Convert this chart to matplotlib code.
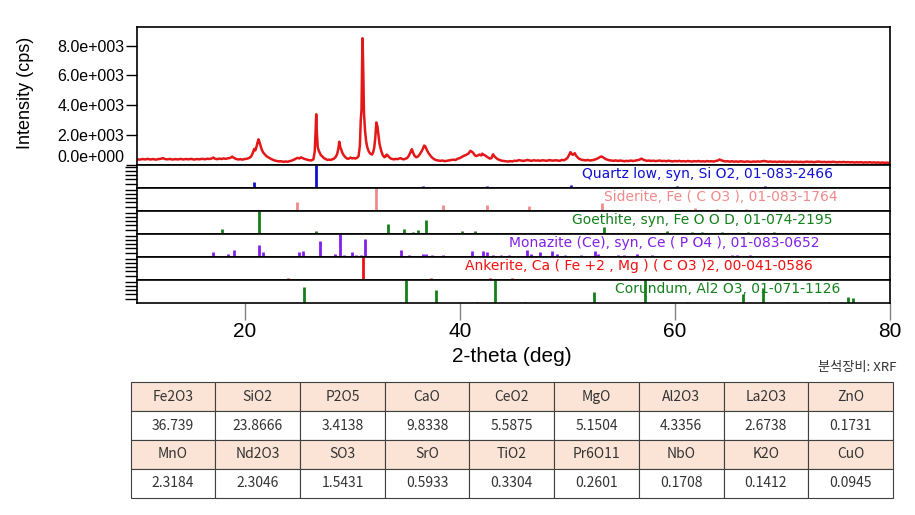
import matplotlib
matplotlib.use("Agg")
import matplotlib.pyplot as plt

scan_10_20 = [
    (10.0, 390), (10.25, 360), (10.5, 400), (10.75, 375), (11.0, 410), (11.25, 370),
    (11.5, 395), (11.75, 360), (12.0, 400), (12.25, 420), (12.4, 460), (12.6, 400),
    (12.8, 380), (13.05, 405), (13.3, 365), (13.55, 395), (13.8, 375), (14.05, 410),
    (14.3, 370), (14.55, 400), (14.8, 380), (15.05, 410), (15.3, 365), (15.55, 400),
    (15.8, 380), (16.05, 415), (16.3, 385), (16.55, 420), (16.75, 400), (16.95, 440),
    (17.1, 500), (17.25, 420), (17.45, 390), (17.65, 430), (17.85, 400), (18.05, 440),
    (18.25, 410), (18.45, 450), (18.65, 470), (18.85, 560), (19.0, 480), (19.2, 410),
    (19.4, 370), (19.6, 390), (19.8, 360), (20.0, 400), (20.2, 420), (20.4, 460),
]
scan_20_38 = [
    (20.6, 560), (20.75, 780), (20.9, 1080), (21.0, 980), (21.1, 1200), (21.2, 1500),
    (21.3, 1720), (21.4, 1500), (21.5, 1250), (21.6, 1020), (21.75, 820), (21.9, 700),
    (22.05, 580), (22.2, 520), (22.4, 430), (22.6, 360), (22.8, 300), (23.0, 270),
    (23.2, 240), (23.4, 250), (23.6, 215), (23.8, 235), (24.0, 220), (24.2, 260),
    (24.4, 300), (24.6, 360), (24.8, 440), (24.95, 480), (25.1, 440), (25.25, 510),
    (25.4, 460), (25.55, 410), (25.7, 380), (25.85, 350), (26.0, 320), (26.2, 310),
    (26.4, 380), (26.52, 900), (26.6, 2200), (26.66, 3400), (26.72, 2200), (26.8, 1200),
    (26.9, 950), (27.0, 800), (27.1, 650), (27.25, 560), (27.4, 450), (27.55, 400),
    (27.7, 340), (27.85, 360), (28.0, 340), (28.15, 380), (28.3, 420), (28.45, 520),
    (28.6, 720), (28.72, 1100), (28.8, 1560), (28.9, 1200), (29.0, 1000), (29.1, 800),
    (29.25, 620), (29.4, 500), (29.55, 420), (29.7, 430), (29.85, 500), (30.0, 440),
    (30.15, 470), (30.3, 430), (30.45, 480), (30.6, 600), (30.72, 1300), (30.8, 3000),
    (30.87, 3700), (30.93, 7000), (30.97, 8500), (31.03, 6500), (31.1, 3500), (31.2, 2300),
    (31.3, 1600), (31.4, 1200), (31.55, 900), (31.7, 750), (31.85, 700), (31.95, 850),
    (32.05, 1150), (32.15, 1800), (32.25, 2850), (32.35, 2600), (32.45, 2000), (32.55, 1400),
    (32.7, 950), (32.85, 650), (33.0, 520), (33.1, 560), (33.2, 700), (33.3, 650),
    (33.45, 520), (33.6, 430), (33.75, 400), (33.9, 380), (34.05, 410), (34.2, 390),
    (34.35, 430), (34.5, 460), (34.65, 400), (34.8, 380), (34.95, 420), (35.1, 460),
    (35.25, 600), (35.4, 820), (35.55, 1060), (35.65, 850), (35.8, 620), (35.95, 520),
    (36.1, 560), (36.25, 680), (36.4, 850), (36.55, 1050), (36.7, 1300), (36.8, 1250),
    (36.95, 1000), (37.1, 800), (37.25, 650), (37.4, 520), (37.55, 430), (37.7, 360),
    (37.85, 320),
]
scan_38_50 = [
    (38.0, 300), (38.2, 280), (38.4, 300), (38.6, 255), (38.8, 280), (39.0, 300),
    (39.2, 330), (39.4, 360), (39.6, 330), (39.8, 420), (40.0, 460), (40.2, 540),
    (40.4, 620), (40.6, 680), (40.8, 760), (41.0, 950), (41.1, 900), (41.25, 820),
    (41.4, 650), (41.55, 600), (41.7, 650), (41.85, 700), (42.0, 640), (42.1, 760),
    (42.2, 700), (42.35, 650), (42.5, 560), (42.65, 500), (42.8, 430), (42.95, 460),
    (43.1, 720), (43.2, 600), (43.35, 500), (43.5, 400), (43.7, 340), (43.9, 290),
    (44.1, 270), (44.3, 250), (44.5, 230), (44.7, 260), (44.9, 240), (45.1, 290),
    (45.3, 270), (45.5, 330), (45.7, 300), (45.9, 270), (46.1, 300), (46.3, 340),
    (46.5, 300), (46.7, 280), (46.9, 320), (47.1, 290), (47.3, 310), (47.5, 280),
    (47.7, 320), (47.9, 300), (48.1, 280), (48.3, 330), (48.5, 310), (48.7, 290),
    (48.9, 320), (49.1, 300), (49.3, 280), (49.5, 340), (49.7, 320), (49.85, 380),
    (50.0, 460),
]
scan_50_80 = [
    (50.1, 580), (50.2, 720), (50.3, 860), (50.4, 760), (50.5, 680), (50.6, 740),
    (50.7, 790), (50.8, 640), (50.95, 520), (51.1, 420), (51.3, 360), (51.5, 330),
    (51.7, 310), (51.9, 340), (52.1, 300), (52.3, 320), (52.5, 350), (52.7, 400),
    (52.9, 470), (53.05, 540), (53.2, 570), (53.35, 500), (53.5, 430), (53.7, 360),
    (53.9, 320), (54.1, 300), (54.3, 280), (54.5, 310), (54.7, 270), (54.9, 300),
    (55.1, 280), (55.3, 250), (55.5, 280), (55.7, 260), (55.9, 300), (56.1, 270),
    (56.3, 290), (56.5, 320), (56.7, 350), (56.9, 430), (57.05, 360), (57.2, 320),
    (57.4, 280), (57.6, 300), (57.8, 270), (58.0, 290), (58.2, 260), (58.4, 280),
    (58.6, 300), (58.8, 260), (59.0, 280), (59.2, 250), (59.4, 290), (59.6, 260),
    (59.8, 240), (60.0, 270), (60.2, 250), (60.4, 280), (60.6, 240), (60.8, 260),
    (61.0, 235), (61.2, 270), (61.4, 250), (61.6, 230), (61.8, 260), (62.0, 240),
    (62.2, 270), (62.4, 235), (62.6, 250), (62.8, 230), (63.0, 265), (63.2, 240),
    (63.4, 255), (63.6, 230), (63.8, 270), (64.0, 300), (64.15, 370), (64.3, 320),
    (64.5, 270), (64.7, 240), (64.9, 255), (65.1, 225), (65.3, 250), (65.5, 220),
    (65.7, 240), (65.9, 215), (66.1, 250), (66.3, 230), (66.5, 210), (66.7, 240),
    (66.9, 220), (67.1, 205), (67.3, 235), (67.5, 215), (67.7, 240), (67.9, 220),
    (68.1, 250), (68.3, 270), (68.5, 240), (68.7, 215), (68.9, 235), (69.1, 210),
    (69.3, 225), (69.5, 200), (69.7, 230), (69.9, 210), (70.1, 225), (70.3, 200),
    (70.5, 215), (70.7, 195), (70.9, 230), (71.1, 205), (71.3, 220), (71.5, 195),
    (71.7, 215), (71.9, 190), (72.1, 210), (72.3, 225), (72.5, 200), (72.7, 215),
    (72.9, 190), (73.1, 205), (73.3, 230), (73.5, 215), (73.7, 195), (73.9, 210),
    (74.1, 185), (74.3, 205), (74.5, 190), (74.7, 215), (74.9, 195), (75.1, 180),
    (75.3, 200), (75.5, 185), (75.7, 205), (75.9, 180), (76.1, 195), (76.3, 175),
    (76.5, 190), (76.7, 165), (76.9, 185), (77.1, 170), (77.3, 190), (77.5, 160),
    (77.7, 180), (77.9, 165), (78.1, 185), (78.3, 160), (78.5, 175), (78.7, 155),
    (78.9, 170), (79.1, 150), (79.3, 165), (79.5, 145), (79.7, 160), (79.9, 140),
    (80.0, 150),
]

## reference patterns (position, relative height)
quartz_pos = [20.86, 26.66, 36.6, 39.5, 40.3, 42.5, 46.0, 50.3, 54.9, 57.4, 60.2, 61.9,
              64.0, 66.2, 68.4, 68.7, 73.5, 75.7, 78.3]
quartz_h = [0.28, 1.0, 0.08, 0.06, 0.05, 0.07, 0.04, 0.12, 0.04, 0.03, 0.07, 0.03,
            0.03, 0.04, 0.08, 0.06, 0.03, 0.03, 0.04]

siderite_pos = [24.9, 32.25, 38.45, 42.5, 46.4, 53.2, 61.9, 63.9, 66.6, 70.8, 72.1]
siderite_h = [0.4, 1.0, 0.25, 0.25, 0.2, 0.33, 0.12, 0.08, 0.1, 0.05, 0.06]

goethite_pos = [17.9, 21.3, 26.6, 33.3, 34.85, 35.7, 36.15, 36.85, 39.1, 40.2, 41.4, 43.3,
                45.4, 47.2, 48.2, 49.5, 50.4, 51.7, 53.4, 55.4, 56.5, 59.3, 61.6, 62.5,
                64.4, 65.3, 66.8, 68.0, 69.2, 70.1, 72.4, 73.3, 74.4, 75.4, 76.6, 77.8]
goethite_h = [0.2, 1.0, 0.12, 0.45, 0.22, 0.1, 0.17, 0.62, 0.06, 0.15, 0.15, 0.05,
              0.05, 0.04, 0.05, 0.06, 0.05, 0.06, 0.3, 0.05, 0.04, 0.12, 0.08, 0.08,
              0.08, 0.06, 0.08, 0.06, 0.07, 0.06, 0.06, 0.05, 0.05, 0.06, 0.05, 0.05]

monazite_pos = [17.1, 18.5, 19.0, 21.35, 21.7, 25.1, 25.4, 27.0, 28.4, 28.85, 29.2, 30.0,
                30.35, 30.8, 31.2, 33.5, 34.5, 35.3, 35.9, 36.6, 36.9, 37.4, 38.4, 39.5,
                40.4, 41.1, 42.2, 42.5, 43.1, 43.8, 44.6, 45.4, 46.25, 46.6, 47.5, 48.6,
                49.0, 49.8, 51.3, 52.6, 52.9, 54.7, 55.3, 56.5, 57.2, 57.9, 58.5, 59.5,
                60.3, 61.2, 63.1, 64.0, 65.3, 65.8, 66.4, 67.0, 67.6, 68.9, 70.0, 71.2,
                72.3, 73.5, 74.6, 75.8, 77.1, 78.4, 79.5]
monazite_h = [0.23, 0.14, 0.3, 0.52, 0.23, 0.2, 0.28, 0.7, 0.14, 1.0, 0.1, 0.23,
              0.1, 0.1, 0.8, 0.06, 0.3, 0.08, 0.06, 0.15, 0.15, 0.1, 0.1, 0.06,
              0.06, 0.25, 0.25, 0.2, 0.1, 0.1, 0.1, 0.06, 0.3, 0.15, 0.2, 0.25,
              0.15, 0.1, 0.1, 0.25, 0.15, 0.1, 0.1, 0.12, 0.06, 0.08, 0.06, 0.05,
              0.06, 0.05, 0.06, 0.05, 0.08, 0.08, 0.06, 0.07, 0.05, 0.05, 0.05, 0.05,
              0.04, 0.05, 0.04, 0.04, 0.04, 0.04, 0.04]

ankerite_pos = [16.6, 22.0, 24.0, 31.0, 33.6, 35.3, 37.3, 41.0, 42.8, 44.9, 49.3, 50.4,
                50.9, 51.3, 55.0, 58.5, 59.5, 60.8, 63.3, 64.5, 65.8, 67.2, 68.6, 70.5,
                72.6, 74.2, 76.3, 78.1, 79.5]
ankerite_h = [0.03, 0.05, 0.08, 1.0, 0.05, 0.06, 0.08, 0.06, 0.08, 0.08, 0.06, 0.06,
              0.06, 0.05, 0.04, 0.04, 0.05, 0.05, 0.05, 0.05, 0.04, 0.05, 0.04, 0.05,
              0.05, 0.04, 0.04, 0.05, 0.04]

corundum_pos = [25.55, 35.0, 37.75, 41.6, 43.25, 46.1, 52.45, 57.2, 59.7, 61.1, 66.35,
                68.15, 70.4, 74.3, 76.1, 76.6]
corundum_h = [0.7, 1.0, 0.55, 0.03, 1.0, 0.03, 0.5, 1.0, 0.03, 0.05, 0.4,
              0.65, 0.03, 0.03, 0.25, 0.2]

phase_labels = [
    "Quartz low, syn, Si O2, 01-083-2466",
    "Siderite, Fe ( C O3 ), 01-083-1764",
    "Goethite, syn, Fe O O D, 01-074-2195",
    "Monazite (Ce), syn, Ce ( P O4 ), 01-083-0652",
    "Ankerite, Ca ( Fe +2 , Mg ) ( C O3 )2, 00-041-0586",
    "Corundum, Al2 O3, 01-071-1126",
]
phase_colors = ["#1010d0", "#f08a8a", "#14801c", "#8020e8", "#f01010", "#14801c"]
label_right = [74.7, 75.1, 74.65, 73.4, 72.8, 75.4]

## XRF table
oxides_1 = ["Fe2O3", "SiO2", "P2O5", "CaO", "CeO2", "MgO", "Al2O3", "La2O3", "ZnO"]
wt_1 = ["36.739", "23.8666", "3.4138", "9.8338", "5.5875", "5.1504", "4.3356", "2.6738", "0.1731"]
oxides_2 = ["MnO", "Nd2O3", "SO3", "SrO", "TiO2", "Pr6O11", "NbO", "K2O", "CuO"]
wt_2 = ["2.3184", "2.3046", "1.5431", "0.5933", "0.3304", "0.2601", "0.1708", "0.1412", "0.0945"]

scan = scan_10_20 + scan_20_38 + scan_38_50 + scan_50_80
two_theta = [p[0] for p in scan]
intensity = [p[1] for p in scan]

fig = plt.figure(figsize=(9.15, 5.15), dpi=100)

W, H = 915.0, 515.0
left = 137 / W
width = (890 - 137) / W

## main pattern
ax = fig.add_axes([left, 1 - 165 / H, width, (165 - 27) / H])
ax.plot(two_theta, intensity, color="#e31818", linewidth=1.8)
ax.set_xlim(10, 80)
ax.set_ylim(0, 9250)
ax.set_yticks([0, 2000, 4000, 6000, 8000])
ax.set_yticklabels(["0.0e+000", "2.0e+003", "4.0e+003", "6.0e+003", "8.0e+003"],
                   fontfamily="Liberation Sans", fontsize=11.5)
ax.yaxis.get_major_ticks()[0].label1.set_va("bottom")
ax.tick_params(axis="y", length=8, width=1, pad=1)
ax.set_xticks([])
for s in ax.spines.values():
    s.set_linewidth(1.2)
fig.text(25 / W, 1 - 93 / H, "Intensity (cps)", rotation=90, ha="center", va="center",
         fontsize=13, family="Liberation Sans")

## stick panels
sticks = [
    (quartz_pos, quartz_h),
    (siderite_pos, siderite_h),
    (goethite_pos, goethite_h),
    (monazite_pos, monazite_h),
    (ankerite_pos, ankerite_h),
    (corundum_pos, corundum_h),
]
for i, (pos, h) in enumerate(sticks):
    top = 165 + 23 * i
    pax = fig.add_axes([left, 1 - (top + 23) / H, width, 23 / H])
    pax.vlines(pos, 0, h, color=phase_colors[i], linewidth=2, zorder=2)
    pax.text(label_right[i], 0.6, phase_labels[i], color=phase_colors[i], ha="right",
             va="center", fontsize=10, family="DejaVu Sans", zorder=1)
    pax.set_xlim(10, 80)
    pax.set_ylim(0, 1.0)
    pax.set_yticks([0.18, 0.37, 0.55, 0.73, 0.92])
    pax.set_yticklabels([])
    pax.tick_params(axis="y", length=9, width=1)
    for s in pax.spines.values():
        s.set_linewidth(1.2)
    if i < 5:
        pax.set_xticks([])
    else:
        pax.set_xticks([20, 40, 60, 80])
        pax.set_xticklabels(["20", "40", "60", "80"], fontfamily="Liberation Sans", fontsize=15)
        pax.tick_params(axis="x", length=12, width=1, color="#808080", pad=2)

fig.text(512 / W, 1 - 357 / H, "2-theta (deg)", ha="center", va="center",
         fontsize=15, family="Liberation Sans")
fig.text(897 / W, 1 - 368 / H, "분석장비: XRF", ha="right", va="center",
         fontsize=9.5, family=["Noto Sans CJK KR", "DejaVu Sans"], color="#333333")

## table
tax = fig.add_axes([130.7 / W, 1 - 497.7 / H, (893 - 130.7) / W, (497.7 - 382.3) / H])
tax.axis("off")
peach = "#fbe4d5"
cells = [oxides_1, wt_1, oxides_2, wt_2]
colors = [[peach] * 9, ["white"] * 9, [peach] * 9, ["white"] * 9]
tbl = tax.table(cellText=cells, cellColours=colors, cellLoc="center", bbox=[0, 0, 1, 1])
tbl.auto_set_font_size(False)
for key, cell in tbl.get_celld().items():
    cell.set_edgecolor("#404040")
    cell.set_linewidth(0.8)
    cell.get_text().set_fontsize(10)
    cell.get_text().set_fontfamily(["Noto Sans CJK KR", "DejaVu Sans"])
    cell.get_text().set_color("#333333")

plt.savefig("out.png", dpi=100)
plt.close()
